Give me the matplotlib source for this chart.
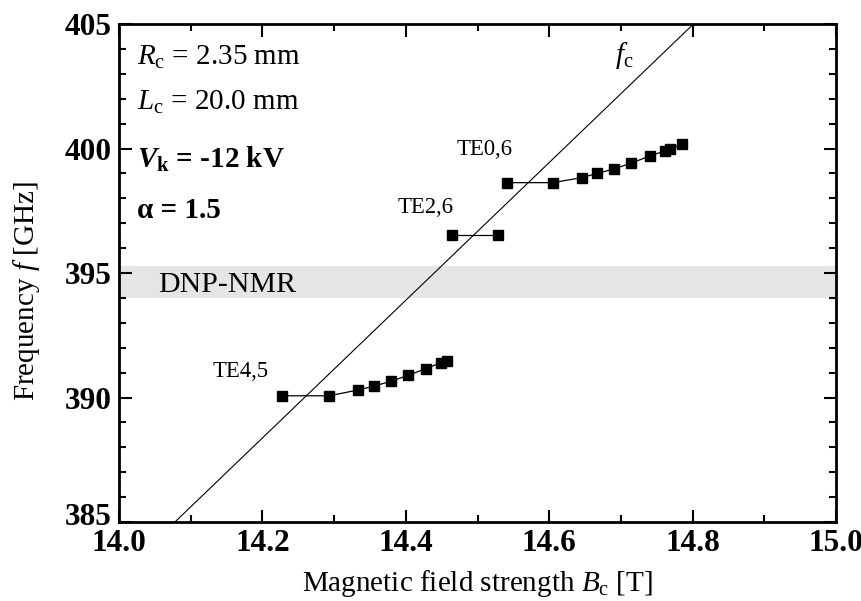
import matplotlib
matplotlib.use("Agg")
import matplotlib.pyplot as plt
import matplotlib.transforms as mtransforms
from matplotlib.ticker import MultipleLocator, FormatStrFormatter

plt.rcParams['font.family'] = ['Liberation Serif', 'DejaVu Serif']
plt.rcParams['mathtext.fontset'] = 'custom'
plt.rcParams['mathtext.rm'] = 'Liberation Serif'
plt.rcParams['mathtext.it'] = 'Liberation Serif:italic'
plt.rcParams['mathtext.bf'] = 'Liberation Serif:bold'
plt.rcParams['mathtext.bfit'] = 'Liberation Serif:bold:italic'

# Data
te45_B = [14.228, 14.293, 14.333, 14.356, 14.380, 14.403, 14.428, 14.449, 14.457]
te45_f = [390.07, 390.07, 390.30, 390.46, 390.66, 390.89, 391.16, 391.40, 391.45]
te26_B = [14.464, 14.529]
te26_f = [396.53, 396.53]
te06_B = [14.541, 14.605, 14.645, 14.667, 14.690, 14.714, 14.740, 14.762, 14.768, 14.785]
te06_f = [398.63, 398.63, 398.83, 399.00, 399.18, 399.41, 399.70, 399.91, 399.97, 400.17]
fc_B = [14.078, 14.801]
fc_f = [385.0, 405.0]
dnp_band = [394.0, 395.3]

fig = plt.figure(figsize=(8.62, 6.01), dpi=100)
ax = fig.add_axes([0.138, 0.1314, 0.832, 0.8286])

ax.axhspan(dnp_band[0], dnp_band[1], color='#e5e5e5', lw=0, zorder=0)
ax.plot(fc_B, fc_f, color='black', lw=0.8, zorder=2)
for B, f in [(te45_B, te45_f), (te26_B, te26_f), (te06_B, te06_f)]:
    ax.plot(B, f, color='black', lw=0.9, marker='s', ms=7.8, mec='black', mfc='black', zorder=3)

ax.set_xlim(14.0, 15.0)
ax.set_ylim(385, 405)
ax.xaxis.set_major_locator(MultipleLocator(0.2))
ax.xaxis.set_minor_locator(MultipleLocator(0.1))
ax.yaxis.set_major_locator(MultipleLocator(5))
ax.yaxis.set_minor_locator(MultipleLocator(1))
ax.xaxis.set_major_formatter(FormatStrFormatter('%.1f'))
ax.tick_params(which='both', direction='in', top=True, right=True, width=1.5)
ax.tick_params(which='major', length=9, labelsize=22.5, pad=5)
ax.tick_params(which='minor', length=5)
for s in ax.spines.values():
    s.set_linewidth(2)

fig.canvas.draw()
for lab in ax.get_xticklabels() + ax.get_yticklabels():
    lab.set_fontweight('bold')
# lift the bottom y tick label, as in the original
ylabs = ax.get_yticklabels()
offset = mtransforms.ScaledTranslation(0, 8 / 100, fig.dpi_scale_trans)
for lab in ylabs:
    if lab.get_text() == '385':
        lab.set_transform(lab.get_transform() + offset)

ax.set_xlabel(r'Magnetic field strength $B_{\rm c}$ [T]', fontsize=21, labelpad=7)
ax.set_ylabel(r'Frequency $f$ [GHz]', fontsize=21)
ax.yaxis.set_label_coords(-0.108, 0.464)

ax.text(14.025, 403.35, r'$R_{\rm c}$ = 2.35 mm', fontsize=21, va='baseline')
ax.text(14.025, 401.55, r'$L_{\rm c}$ = 20.0 mm', fontsize=21, va='baseline')
ax.text(14.025, 399.22, r'$\mathbfit{V}_{\mathbf{k}}$ = -12 kV', fontsize=21, va='baseline', fontweight='bold')
ax.text(14.025, 397.2, r'α = 1.5', fontsize=21, va='baseline', fontweight='bold')
ax.text(14.055, 394.25, 'DNP-NMR', fontsize=21.5, va='baseline')
ax.text(14.130, 390.81, 'TE4,5', fontsize=16.4, va='baseline')
ax.text(14.388, 397.4, 'TE2,6', fontsize=16.4, va='baseline')
ax.text(14.471, 399.74, 'TE0,6', fontsize=16.4, va='baseline')
ax.text(14.692, 403.43, r'$f_{\rm c}$', fontsize=21, va='baseline')

fig.savefig('out.png', dpi=100)
